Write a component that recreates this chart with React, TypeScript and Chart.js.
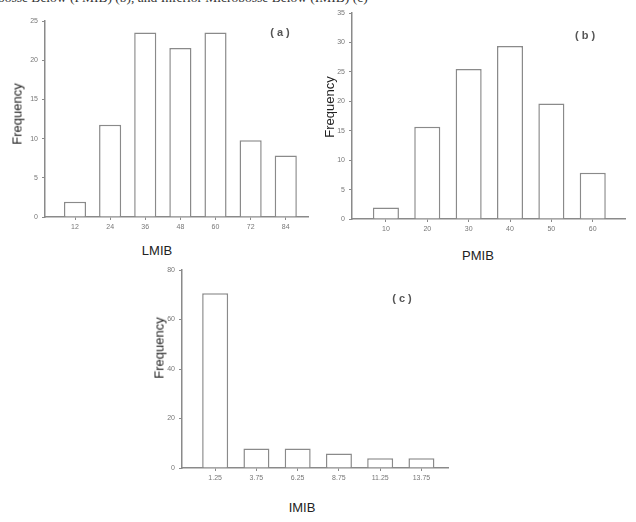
import React, { useEffect, useRef } from 'react';
import { Chart, registerables } from 'chart.js';

Chart.register(...registerables);

// (a) LMIB
const lmibBins = [12, 24, 36, 48, 60, 72, 84];
const lmibLabels = ['12', '24', '36', '48', '60', '72', '84'];
const lmibFreq = [1.96, 11.76, 23.53, 21.57, 23.53, 9.8, 7.84];

// (b) PMIB
const pmibBins = [10, 20, 30, 40, 50, 60];
const pmibLabels = ['10', '20', '30', '40', '50', '60'];
const pmibFreq = [1.96, 15.69, 25.49, 29.41, 19.61, 7.84];

// (c) IMIB
const imibBins = [1.25, 3.75, 6.25, 8.75, 11.25, 13.75];
const imibLabels = ['1.25', '3.75', '6.25', '8.75', '11.25', '13.75'];
const imibFreq = [70.59, 7.84, 7.84, 5.88, 3.92, 3.92];

const AXIS = '#8a8a8a';
const TICK_TXT = '#777';
const FONT = "'Liberation Sans', Arial, sans-serif";

type PanelProps = {
  bins: number[];
  labels: string[];
  freq: number[];
  xMin: number;
  xMax: number;
  yMax: number;
  yStep: number;
  left: number;
  top: number;
  w: number;
  h: number;
  pad: { left: number; right: number; top: number; bottom: number };
  yWidth: number;
  xHeight: number;
};

function Panel(p: PanelProps) {
  const ref = useRef<HTMLCanvasElement | null>(null);
  useEffect(() => {
    if (!ref.current) return;
    const chart = new Chart(ref.current, {
      type: 'bar',
      data: {
        datasets: [
          {
            data: p.freq.map((v, i) => ({ x: p.bins[i], y: v })),
            backgroundColor: '#ffffff',
            borderColor: AXIS,
            borderWidth: 1.5,
            categoryPercentage: 1,
            barPercentage: 0.63,
          },
        ],
      },
      options: {
        animation: false,
        responsive: false,
        devicePixelRatio: 1,
        layout: { padding: p.pad },
        plugins: { legend: { display: false }, tooltip: { enabled: false } },
        scales: {
          x: {
            type: 'linear',
            bounds: 'data',
            offset: false,
            min: p.xMin,
            max: p.xMax,
            afterBuildTicks: (scale: any) => {
              scale.ticks = p.bins.map((v) => ({ value: v }));
            },
            afterFit: (scale: any) => {
              scale.height = p.xHeight;
            },
            grid: {
              display: true,
              offset: false,
              drawOnChartArea: false,
              drawTicks: true,
              tickLength: 3,
              color: AXIS,
              lineWidth: 1,
            },
            border: { display: true, color: AXIS, width: 1.5 },
            ticks: {
              autoSkip: false,
              maxRotation: 0,
              padding: 3,
              color: TICK_TXT,
              font: { family: FONT, size: 7 },
              callback: (_v: any, i: number) => p.labels[i],
            },
          },
          y: {
            type: 'linear',
            min: 0,
            max: p.yMax,
            afterFit: (scale: any) => {
              scale.width = p.yWidth;
            },
            grid: {
              display: true,
              drawOnChartArea: false,
              drawTicks: true,
              tickLength: 3,
              color: AXIS,
              lineWidth: 1,
            },
            border: { display: true, color: AXIS, width: 1.5 },
            ticks: {
              stepSize: p.yStep,
              padding: 4,
              color: TICK_TXT,
              font: { family: FONT, size: 7 },
            },
          },
        },
      },
    } as any);
    return () => chart.destroy();
  }, []);
  return (
    <canvas
      ref={ref}
      width={p.w}
      height={p.h}
      style={{ position: 'absolute', left: p.left, top: p.top, width: p.w, height: p.h }}
    />
  );
}

const titleStyle: React.CSSProperties = {
  position: 'absolute',
  fontFamily: FONT,
  fontSize: 13,
  color: '#222',
  whiteSpace: 'nowrap',
  transform: 'translate(-50%, -50%)',
};

const yTitleStyle: React.CSSProperties = {
  ...titleStyle,
  transform: 'translate(-50%, -50%) rotate(-90deg)',
};

const panelLabelStyle: React.CSSProperties = {
  position: 'absolute',
  fontFamily: FONT,
  fontSize: 11,
  fontWeight: 'bold',
  color: '#555',
  whiteSpace: 'pre',
  transform: 'translate(-50%, -50%)',
};

export default function App() {
  return (
    <div
      style={{
        position: 'absolute',
        left: 0,
        top: 0,
        width: 636,
        height: 522,
        background: '#fff',
        overflow: 'hidden',
      }}
    >
      <div style={{ position: 'absolute', left: 0, top: 0, width: 636, height: 5, overflow: 'hidden' }}>
        <div
          style={{
            position: 'absolute',
            left: -2,
            top: -10,
            fontFamily: "'Liberation Serif', 'Times New Roman', serif",
            fontSize: 13.5,
            color: '#333',
            whiteSpace: 'nowrap',
          }}
        >
          bosse Below (PMIB) (b), and Inferior Microbosse Below (IMIB) (c)
        </div>
      </div>

      <Panel
        bins={lmibBins}
        labels={lmibLabels}
        freq={lmibFreq}
        xMin={1.75}
        xMax={91.6}
        yMax={25}
        yStep={5}
        left={0}
        top={0}
        w={318}
        h={240}
        pad={{ left: 5, right: 10, top: 21, bottom: 0 }}
        yWidth={40}
        xHeight={23}
      />
      <Panel
        bins={pmibBins}
        labels={pmibLabels}
        freq={pmibFreq}
        xMin={1.8}
        xMax={67.8}
        yMax={35}
        yStep={5}
        left={318}
        top={0}
        w={318}
        h={242}
        pad={{ left: 4, right: 11, top: 13, bottom: 0 }}
        yWidth={30}
        xHeight={23}
      />
      <Panel
        bins={imibBins}
        labels={imibLabels}
        freq={imibFreq}
        xMin={-0.76}
        xMax={15.36}
        yMax={80}
        yStep={20}
        left={140}
        top={260}
        w={320}
        h={230}
        pad={{ left: 12, right: 12, top: 10, bottom: 0 }}
        yWidth={30}
        xHeight={22}
      />

      <div style={{ ...yTitleStyle, left: 17, top: 114 }}>Frequency</div>
      <div style={{ ...titleStyle, left: 157, top: 250 }}>LMIB</div>
      <div style={{ ...panelLabelStyle, left: 280, top: 32 }}>( a )</div>

      <div style={{ ...yTitleStyle, left: 329, top: 107 }}>Frequency</div>
      <div style={{ ...titleStyle, left: 478, top: 255 }}>PMIB</div>
      <div style={{ ...panelLabelStyle, left: 585, top: 35 }}>( b )</div>

      <div style={{ ...yTitleStyle, left: 159, top: 348 }}>Frequency</div>
      <div style={{ ...titleStyle, left: 302, top: 507 }}>IMIB</div>
      <div style={{ ...panelLabelStyle, left: 402, top: 298 }}>( c )</div>
    </div>
  );
}
